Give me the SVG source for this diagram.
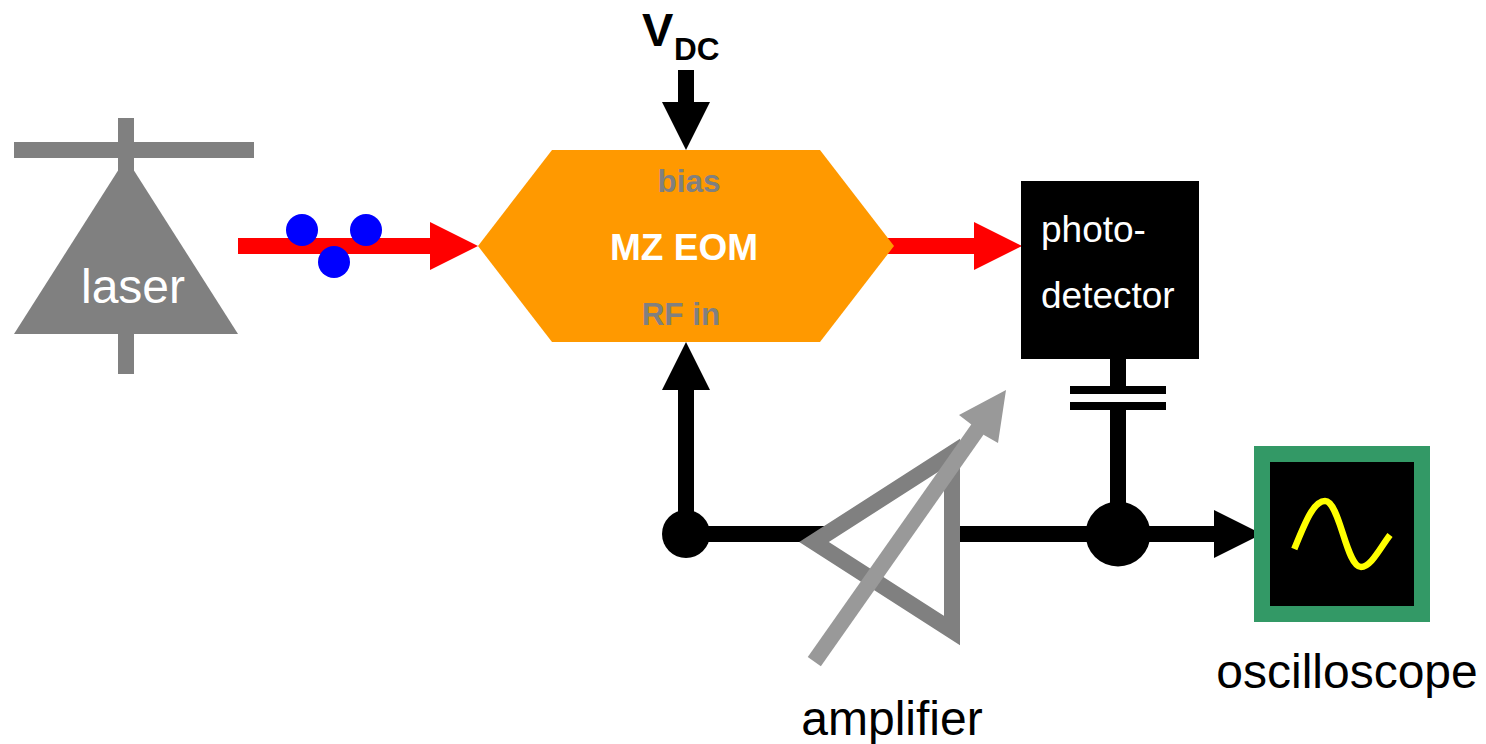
<svg xmlns="http://www.w3.org/2000/svg" width="1486" height="744" viewBox="0 0 1486 744">
<style>
text{font-family:"Liberation Sans",Arial,sans-serif}
.lbl{font-size:48px;fill:#000}
.blk{fill:#000}
.gry{fill:#808080}
.red{fill:#f00}
.wire{stroke:#000;stroke-width:16;fill:none}
</style>
<rect width="1486" height="744" fill="#fff"/>
<g id="laser">
<rect class="gry" x="14" y="142" width="240" height="16"/>
<rect class="gry" x="118" y="118" width="16" height="256"/>
<polygon class="gry" points="126,158 238,334 14,334"/>
<text x="133" y="303" font-size="48" fill="#fff" text-anchor="middle">laser</text>
</g>
<g id="connectors">
<rect class="red" x="238" y="238" width="194" height="16"/>
<polygon class="red" points="430,222 478,246 430,270"/>
<rect class="red" x="888" y="238" width="90" height="16"/>
<polygon class="red" points="974,222 1022,246 974,270"/>
<rect class="blk" x="678" y="70" width="16" height="34"/>
<polygon class="blk" points="662,102 710,102 686,150"/>
<path class="wire" d="M686 534V388"/>
<polygon class="blk" points="662,390 710,390 686,342"/>
<path class="wire" d="M686 534H830M950 534H1118M1118 358V386M1118 410V534M1118 534H1218"/>
<polygon class="blk" points="1214,510 1262,534 1214,558"/>
<rect class="blk" x="1070" y="386" width="96" height="8"/>
<rect class="blk" x="1070" y="402" width="96" height="8"/>
<circle class="blk" cx="686" cy="534" r="24"/>
<circle class="blk" cx="1118" cy="534" r="32.5"/>
</g>
<g id="photons">
<circle cx="302" cy="230" r="16" fill="#00f"/>
<circle cx="366" cy="230" r="16" fill="#00f"/>
<circle cx="334" cy="262" r="16" fill="#00f"/>
</g>
<g id="eom">
<polygon points="478,246 552,150 820,150 894,246 820,342 552,342" fill="#ff9900"/>
<text x="689" y="192" font-size="31.5" font-weight="bold" fill="#808080" text-anchor="middle">bias</text>
<text x="684" y="260" font-size="37" font-weight="bold" fill="#fff" text-anchor="middle">MZ EOM</text>
<text x="681" y="325" font-size="31.5" font-weight="bold" fill="#808080" text-anchor="middle">RF in</text>
</g>
<g id="vdc">
<text x="642" y="46" font-size="47" font-weight="bold">V</text>
<text x="674" y="60" font-size="31.5" font-weight="bold">DC</text>
</g>
<g id="photodetector">
<rect class="blk" x="1021" y="181" width="178" height="178"/>
<text x="1041" y="242" font-size="37" fill="#fff">photo-</text>
<text x="1041" y="308" font-size="37" fill="#fff">detector</text>
</g>
<g id="amplifier">
<polygon points="814,542 952,453.5 952,630.5" fill="#fff" stroke="#808080" stroke-width="16"/>
<path d="M814.3 661.7L982 423" stroke="#999" stroke-width="16" fill="none"/>
<polygon points="1006,390 998,443 984,435 978,430 972,425 959,415" fill="#999"/>
<text x="892" y="735" class="lbl" text-anchor="middle">amplifier</text>
</g>
<g id="oscilloscope">
<rect x="1262" y="454" width="160" height="160" fill="#000" stroke="#339966" stroke-width="16"/>
<path d="M1294.3 549C1306 520 1314 501 1325 501C1340 501 1346 567 1361 567C1371 567 1380 548 1390 535" fill="none" stroke="#ff0" stroke-width="6.5"/>
<text x="1347" y="688" class="lbl" text-anchor="middle">oscilloscope</text>
</g>
</svg>
